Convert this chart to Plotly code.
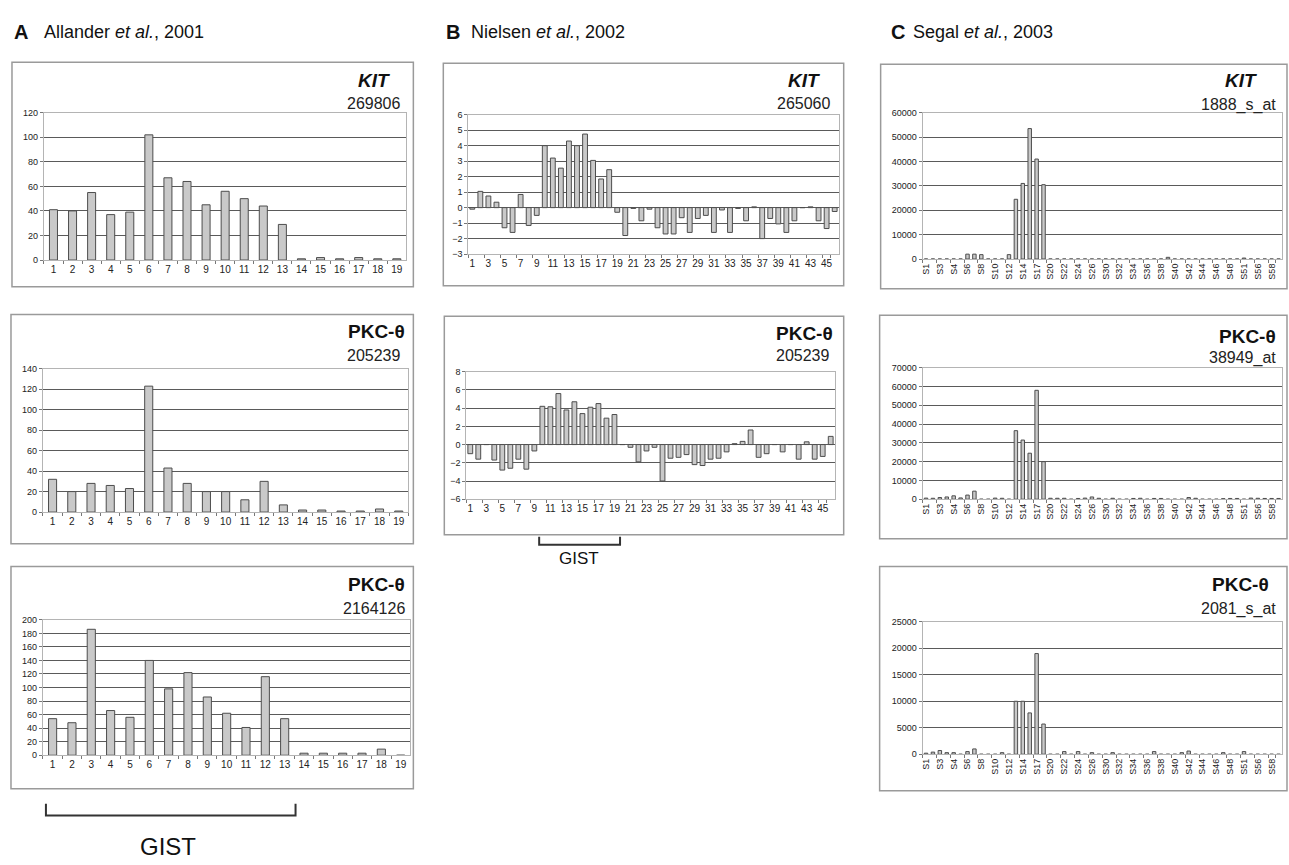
import plotly.graph_objects as go

W, H = 1289, 865

# ---------------- data ----------------
A_cats = [str(i) for i in range(1, 20)]
A_kit_269806 = [41, 40, 55, 37, 39, 102, 67, 64, 45, 56, 50, 44, 29, 1, 2, 1, 2, 1, 1]
A_pkc_205239 = [32, 20, 28, 26, 23, 123, 43, 28, 20, 20, 12, 30, 7, 2, 2, 1, 1, 3, 1]
A_pkc_2164126 = [54, 48, 186, 66, 56, 140, 98, 122, 86, 62, 41, 116, 54, 3, 3, 3, 3, 9, 0]

B_cats = [str(i) for i in range(1, 47)]
B_ticks = [str(i) for i in range(1, 47, 2)]
B_kit_265060 = [-0.1, 1.05, 0.75, 0.35, -1.3, -1.6, 0.85, -1.15, -0.5, 4.0,
                3.2, 2.55, 4.3, 4.0, 4.75, 3.05, 1.85, 2.45, -0.3, -1.8,
                -0.05, -0.85, -0.1, -1.3, -1.7, -1.7, -0.65, -1.6, -0.7, -0.5,
                -1.6, -0.15, -1.6, -0.05, -0.85, 0.05, -2.0, -0.7, -1.05, -1.6,
                -0.85, 0.0, 0.05, -0.85, -1.35, -0.25]
B_pkc_205239 = [-1.0, -1.6, 0.0, -1.7, -2.8, -2.6, -1.6, -2.7, -0.7, 4.2,
                4.15, 5.6, 3.8, 4.7, 3.4, 4.1, 4.5, 2.9, 3.3, 0.0,
                -0.3, -1.9, -0.7, -0.3, -4.0, -1.5, -1.4, -1.1, -2.2, -2.3,
                -1.6, -1.5, -0.8, 0.1, 0.35, 1.6, -1.4, -1.0, 0.0, -0.8,
                0.0, -1.6, 0.3, -1.6, -1.3, 0.9]

C_cats = ["S1", "S2", "S3", "S3b", "S4", "S5", "S6", "S7", "S8", "S9",
          "S10", "S11", "S12", "S13", "S14", "S16", "S17", "S19", "S20", "S21",
          "S22", "S23", "S24", "S25", "S26", "S28", "S30", "S31", "S32", "S33",
          "S34", "S35", "S36", "S37", "S38", "S39", "S40", "S41", "S42", "S43",
          "S44", "S45", "S46", "S47", "S48", "S50", "S51", "S53", "S56", "S57",
          "S58", "S59"]
C_ticks = C_cats[::2]
C_kit_1888 = [0, 0, 0, 0, 0, 0, 2000, 2000, 1800, 0,
              0, 0, 1800, 24500, 31000, 53500, 41000, 30500, 0, 0,
              0, 0, 0, 0, 0, 0, 0, 0, 0, 0,
              0, 0, 0, 0, 0, 700, 0, 0, 0, 0,
              0, 0, 0, 0, 0, 0, 400, 0, 0, 0,
              0, 0]
C_pkc_38949 = [600, 500, 900, 1200, 1800, 700, 2200, 4300, 0, 0,
               600, 500, 0, 36500, 31500, 24500, 58000, 20000, 500, 500,
               500, 0, 400, 600, 1200, 500, 0, 500, 0, 0,
               400, 500, 0, 400, 400, 0, 0, 0, 900, 500,
               0, 0, 0, 300, 400, 400, 0, 600, 500, 400,
               400, 400]
C_pkc_2081 = [200, 400, 700, 300, 300, 0, 500, 1000, 0, 0,
              0, 300, 0, 10000, 10000, 7800, 19000, 5700, 0, 0,
              500, 0, 500, 0, 300, 0, 0, 300, 0, 0,
              0, 0, 0, 500, 0, 0, 0, 300, 600, 0,
              0, 0, 0, 300, 0, 0, 500, 0, 0, 0,
              0, 0]

headers = [("A", "Allander <i>et al.</i>, 2001"),
           ("B", "Nielsen <i>et al.</i>, 2002"),
           ("C", "Segal <i>et al.</i>, 2003")]

# ---------------- styling / layout ----------------
FONT = "Arial, Liberation Sans, sans-serif"
BAR_FILL = "#c9c9c9"
BAR_LINE = "#4d4d4d"
GRID = "#5a5a5a"
FRAME = "#b4b4b4"
BOX = "#9a9a9a"

panels = [
    dict(cats=A_cats, vals=A_kit_269806, ticks=A_cats, plot=(42, 109, 405, 258), box=(10, 58, 412, 285),
         yr=(0, 120), dt=20, gene="<b><i>KIT</i></b>", probe="269806", gy=76, py=100, gx=391, px=401,
         w=0.42, xfs=10, angle=0),
    dict(cats=A_cats, vals=A_pkc_205239, ticks=A_cats, plot=(41, 368, 407, 513), box=(9, 313, 412, 545),
         yr=(0, 140), dt=20, gene="<b>PKC-θ</b>", probe="205239", gy=330, py=355, gx=406, px=401,
         w=0.42, xfs=10, angle=0),
    dict(cats=A_cats, vals=A_pkc_2164126, ticks=A_cats, plot=(41, 622, 409, 759), box=(9, 568, 412, 793),
         yr=(0, 200), dt=20, gene="<b>PKC-θ</b>", probe="2164126", gy=586, py=611, gx=406, px=406,
         w=0.42, xfs=10, angle=0),
    dict(cats=B_cats, vals=B_kit_265060, ticks=B_ticks, plot=(467, 111, 838, 252), box=(442, 59, 843, 284),
         yr=(-3, 6), dt=1, gene="<b><i>KIT</i></b>", probe="265060", gy=76, py=100, gx=821, px=831,
         w=0.6, xfs=10, angle=0),
    dict(cats=B_cats, vals=B_pkc_205239, ticks=B_ticks, plot=(465, 371, 834, 500), box=(443, 315, 843, 536),
         yr=(-6, 8), dt=2, gene="<b>PKC-θ</b>", probe="205239", gy=332, py=355, gx=834, px=830,
         w=0.6, xfs=10, angle=0),
    dict(cats=C_cats, vals=C_kit_1888, ticks=C_ticks, plot=(922, 109, 1282, 257), box=(880, 60, 1287, 287),
         yr=(0, 60000), dt=10000, gene="<b><i>KIT</i></b>", probe="1888_s_at", gy=76, py=101, gx=1259, px=1278,
         w=0.5, xfs=9, angle=-90),
    dict(cats=C_cats, vals=C_pkc_38949, ticks=C_ticks, plot=(922, 367, 1282, 500), box=(879, 314, 1287, 540),
         yr=(0, 70000), dt=10000, gene="<b>PKC-θ</b>", probe="38949_at", gy=335, py=357, gx=1278, px=1278,
         w=0.5, xfs=9, angle=-90),
    dict(cats=C_cats, vals=C_pkc_2081, ticks=C_ticks, plot=(922, 624, 1282, 758), box=(879, 568, 1287, 795),
         yr=(0, 25000), dt=5000, gene="<b>PKC-θ</b>", probe="2081_s_at", gy=586, py=611, gx=1271, px=1278,
         w=0.5, xfs=9, angle=-90),
]


def fx(x):
    return x / W


def fy(y):
    return 1 - y / H


fig = go.Figure()
shapes = []
annotations = []
layout = {}

for i, p in enumerate(panels, start=1):
    xa = "x" if i == 1 else f"x{i}"
    ya = "y" if i == 1 else f"y{i}"
    fig.add_trace(go.Bar(
        x=p["cats"], y=p["vals"], xaxis=xa, yaxis=ya, width=p["w"],
        marker=dict(color=BAR_FILL, line=dict(color=BAR_LINE, width=1)),
        showlegend=False, hoverinfo="x+y"))
    x0, y0, x1, y1 = p["plot"]
    xkey = "xaxis" if i == 1 else f"xaxis{i}"
    ykey = "yaxis" if i == 1 else f"yaxis{i}"
    layout[xkey] = dict(
        domain=[fx(x0), fx(x1)], anchor=ya, type="category",
        categoryorder="array", categoryarray=p["cats"],
        tickmode="array", tickvals=p["ticks"], ticktext=p["ticks"],
        tickangle=p["angle"], tickfont=dict(family=FONT, size=p["xfs"], color="#222"),
        showgrid=False, showline=True, linecolor=FRAME, mirror=True,
        ticks="outside", ticklen=3, tickcolor="#777", tickson="boundaries",
        zeroline=False, fixedrange=True)
    layout[ykey] = dict(
        domain=[fy(y1), fy(y0)], anchor=xa, range=list(p["yr"]), dtick=p["dt"],
        tickformat="d", tickfont=dict(family=FONT, size=9, color="#222"),
        showgrid=True, gridcolor=GRID, gridwidth=1,
        zeroline=True, zerolinecolor=GRID, zerolinewidth=1,
        showline=True, linecolor=FRAME, mirror=True,
        ticks="outside", ticklen=3, tickcolor="#777", fixedrange=True)
    bx0, by0, bx1, by1 = p["box"]
    shapes.append(dict(type="rect", xref="paper", yref="paper",
                       x0=fx(bx0), x1=fx(bx1), y0=fy(by1), y1=fy(by0),
                       line=dict(color=BOX, width=1.5), fillcolor="rgba(0,0,0,0)", layer="below"))
    annotations.append(dict(xref="paper", yref="paper", x=fx(p["gx"]), y=fy(p["gy"]),
                            xanchor="right", yanchor="middle", showarrow=False,
                            text=p["gene"], font=dict(family=FONT, size=19, color="#111")))
    annotations.append(dict(xref="paper", yref="paper", x=fx(p["px"]), y=fy(p["py"]),
                            xanchor="right", yanchor="middle", showarrow=False,
                            text=p["probe"], font=dict(family=FONT, size=16, color="#222")))

# Section headers
header_pos = [(10, 40), (443, 468), (888, 910)]
for (letter, txt), (lx, tx) in zip(headers, header_pos):
    annotations.append(dict(xref="paper", yref="paper", x=fx(lx), y=fy(27), xanchor="left", yanchor="middle",
                            showarrow=False, text=f"<b>{letter}</b>",
                            font=dict(family=FONT, size=20, color="#111")))
    annotations.append(dict(xref="paper", yref="paper", x=fx(tx), y=fy(27), xanchor="left", yanchor="middle",
                            showarrow=False, text=txt, font=dict(family=FONT, size=18, color="#111")))


# GIST brackets
def bracket(xl, xr, ytop, ybot):
    return dict(type="path", xref="paper", yref="paper",
                path=f"M {fx(xl)},{fy(ytop)} L {fx(xl)},{fy(ybot)} L {fx(xr)},{fy(ybot)} L {fx(xr)},{fy(ytop)}",
                line=dict(color="#333", width=2))


shapes.append(bracket(44, 294, 808, 820))
annotations.append(dict(xref="paper", yref="paper", x=fx(166), y=fy(851), xanchor="center", yanchor="middle",
                        showarrow=False, text="GIST", font=dict(family=FONT, size=24, color="#111")))
shapes.append(bracket(538, 619, 538, 546))
annotations.append(dict(xref="paper", yref="paper", x=fx(578), y=fy(560), xanchor="center", yanchor="middle",
                        showarrow=False, text="GIST", font=dict(family=FONT, size=17, color="#111")))

fig.update_layout(
    width=W, height=H, margin=dict(l=0, r=0, t=0, b=0),
    paper_bgcolor="white", plot_bgcolor="white",
    shapes=shapes, annotations=annotations, bargap=0.5, **layout)

fig.write_html("out.html", config={"displayModeBar": False},
               post_script="document.body.style.margin='0';document.body.style.overflow='hidden';")
